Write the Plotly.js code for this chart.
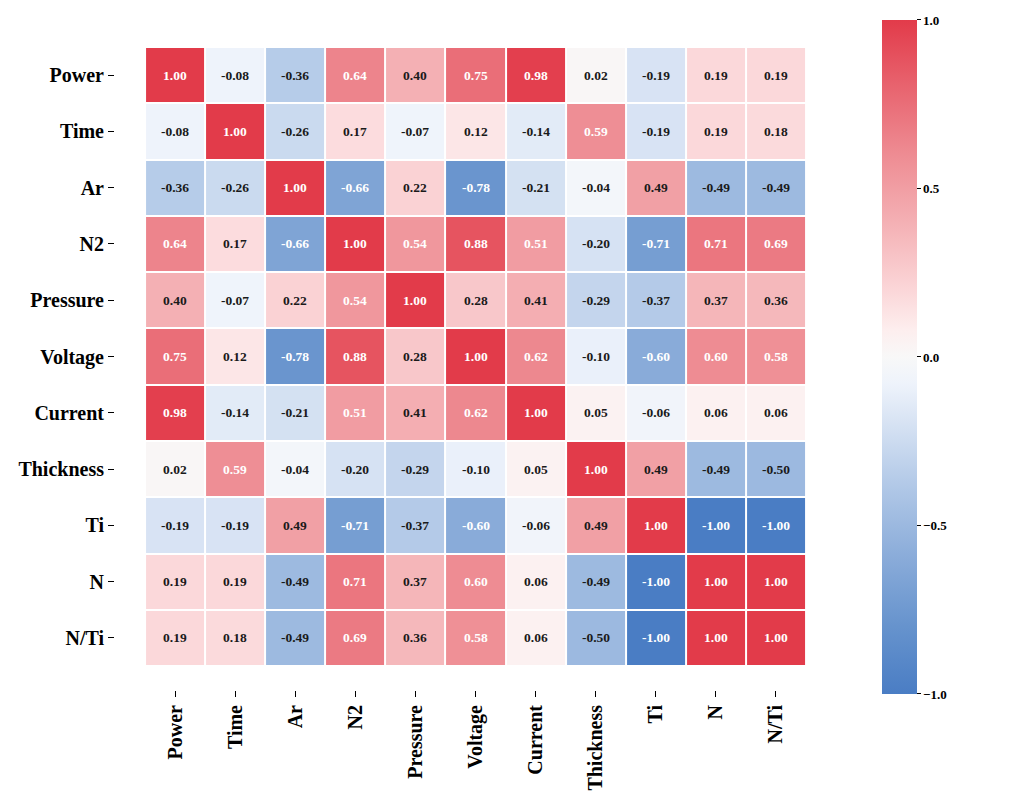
<!DOCTYPE html>
<html>
<head>
<meta charset="utf-8">
<script src="https://cdn.plot.ly/plotly-3.0.1.min.js"></script>
<style>html,body{margin:0;padding:0;background:#fff;}#chart{width:1033px;height:809px;}</style>
</head>
<body>
<div id="chart"></div>
<script>
const labels = ["Power","Time","Ar","N2","Pressure","Voltage","Current","Thickness","Ti","N","N/Ti"];
const rowPower     = [1.00,-0.08,-0.36,0.64,0.40,0.75,0.98,0.02,-0.19,0.19,0.19];
const rowTime      = [-0.08,1.00,-0.26,0.17,-0.07,0.12,-0.14,0.59,-0.19,0.19,0.18];
const rowAr        = [-0.36,-0.26,1.00,-0.66,0.22,-0.78,-0.21,-0.04,0.49,-0.49,-0.49];
const rowN2        = [0.64,0.17,-0.66,1.00,0.54,0.88,0.51,-0.20,-0.71,0.71,0.69];
const rowPressure  = [0.40,-0.07,0.22,0.54,1.00,0.28,0.41,-0.29,-0.37,0.37,0.36];
const rowVoltage   = [0.75,0.12,-0.78,0.88,0.28,1.00,0.62,-0.10,-0.60,0.60,0.58];
const rowCurrent   = [0.98,-0.14,-0.21,0.51,0.41,0.62,1.00,0.05,-0.06,0.06,0.06];
const rowThickness = [0.02,0.59,-0.04,-0.20,-0.29,-0.10,0.05,1.00,0.49,-0.49,-0.50];
const rowTi        = [-0.19,-0.19,0.49,-0.71,-0.37,-0.60,-0.06,0.49,1.00,-1.00,-1.00];
const rowN         = [0.19,0.19,-0.49,0.71,0.37,0.60,0.06,-0.49,-1.00,1.00,1.00];
const rowNTi       = [0.19,0.18,-0.49,0.69,0.36,0.58,0.06,-0.50,-1.00,1.00,1.00];
const corr = [rowPower,rowTime,rowAr,rowN2,rowPressure,rowVoltage,rowCurrent,rowThickness,rowTi,rowN,rowNTi];
const cbTicks = [-1.0,-0.5,0.0,0.5,1.0];

const idx = labels.map((_, i) => i);
const fontFam = "Liberation Serif, Times New Roman, serif";

const colorscale = [
  [0.00,'#4a7dc4'],
  [0.10,'#6693cd'],
  [0.20,'#89abd9'],
  [0.30,'#aec6e6'],
  [0.40,'#d6e2f3'],
  [0.46,'#eef3fb'],
  [0.50,'#f8f8f8'],
  [0.54,'#fdeeee'],
  [0.60,'#fbd6d8'],
  [0.70,'#f4b0b4'],
  [0.80,'#ee8c93'],
  [0.90,'#e8646f'],
  [1.00,'#e23b4a']
];

const trace = {
  type: 'heatmap',
  z: corr,
  x: idx,
  y: idx,
  zmin: -1, zmax: 1,
  xgap: 2, ygap: 2,
  colorscale: colorscale,
  hoverinfo: 'skip',
  colorbar: {
    x: 1.0638, xanchor: 'left', xpad: 0,
    y: 0.4993, yanchor: 'middle', ypad: 0,
    thickness: 35, thicknessmode: 'pixels',
    len: 674, lenmode: 'pixels',
    outlinewidth: 0,
    tickvals: cbTicks,
    ticktext: cbTicks.map(v => (v < 0 ? '\u2212' : '') + Math.abs(v).toFixed(1)),
    ticks: 'outside', ticklen: 4, tickcolor: '#000', tickwidth: 1,
    tickfont: {family: fontFam, size: 13, color: '#000', weight: 'bold'}
  }
};

const annotations = [];
corr.forEach((row, r) => {
  row.forEach((v, c) => {
    annotations.push({
      x: c, y: r, xref: 'x', yref: 'y',
      text: v.toFixed(2),
      showarrow: false,
      font: {family: fontFam, size: 13.5, weight: 'bold', color: Math.abs(v) > 0.5 ? '#ffffff' : '#1a1a1a'}
    });
  });
});

const layout = {
  width: 1033, height: 809,
  margin: {l: 115, r: 197, t: 23, b: 119},
  paper_bgcolor: '#fff', plot_bgcolor: '#fff',
  showlegend: false,
  xaxis: {
    range: [-1.0, 11.0],
    tickvals: idx, ticktext: labels,
    tickangle: -90,
    ticks: 'outside', ticklen: 6, tickcolor: '#000', tickwidth: 1,
    showgrid: false, zeroline: false, showline: false,
    tickfont: {family: fontFam, size: 20, color: '#000', weight: 'bold'},
    fixedrange: true
  },
  yaxis: {
    range: [10.926, -0.926],
    tickvals: idx, ticktext: labels,
    ticks: 'outside', ticklen: 6, tickcolor: '#000', tickwidth: 1,
    showgrid: false, zeroline: false, showline: false,
    tickfont: {family: fontFam, size: 20, color: '#000', weight: 'bold'},
    fixedrange: true
  },
  annotations: annotations
};

Plotly.newPlot('chart', [trace], layout, {displayModeBar: false, staticPlot: true});
</script>
</body>
</html>
